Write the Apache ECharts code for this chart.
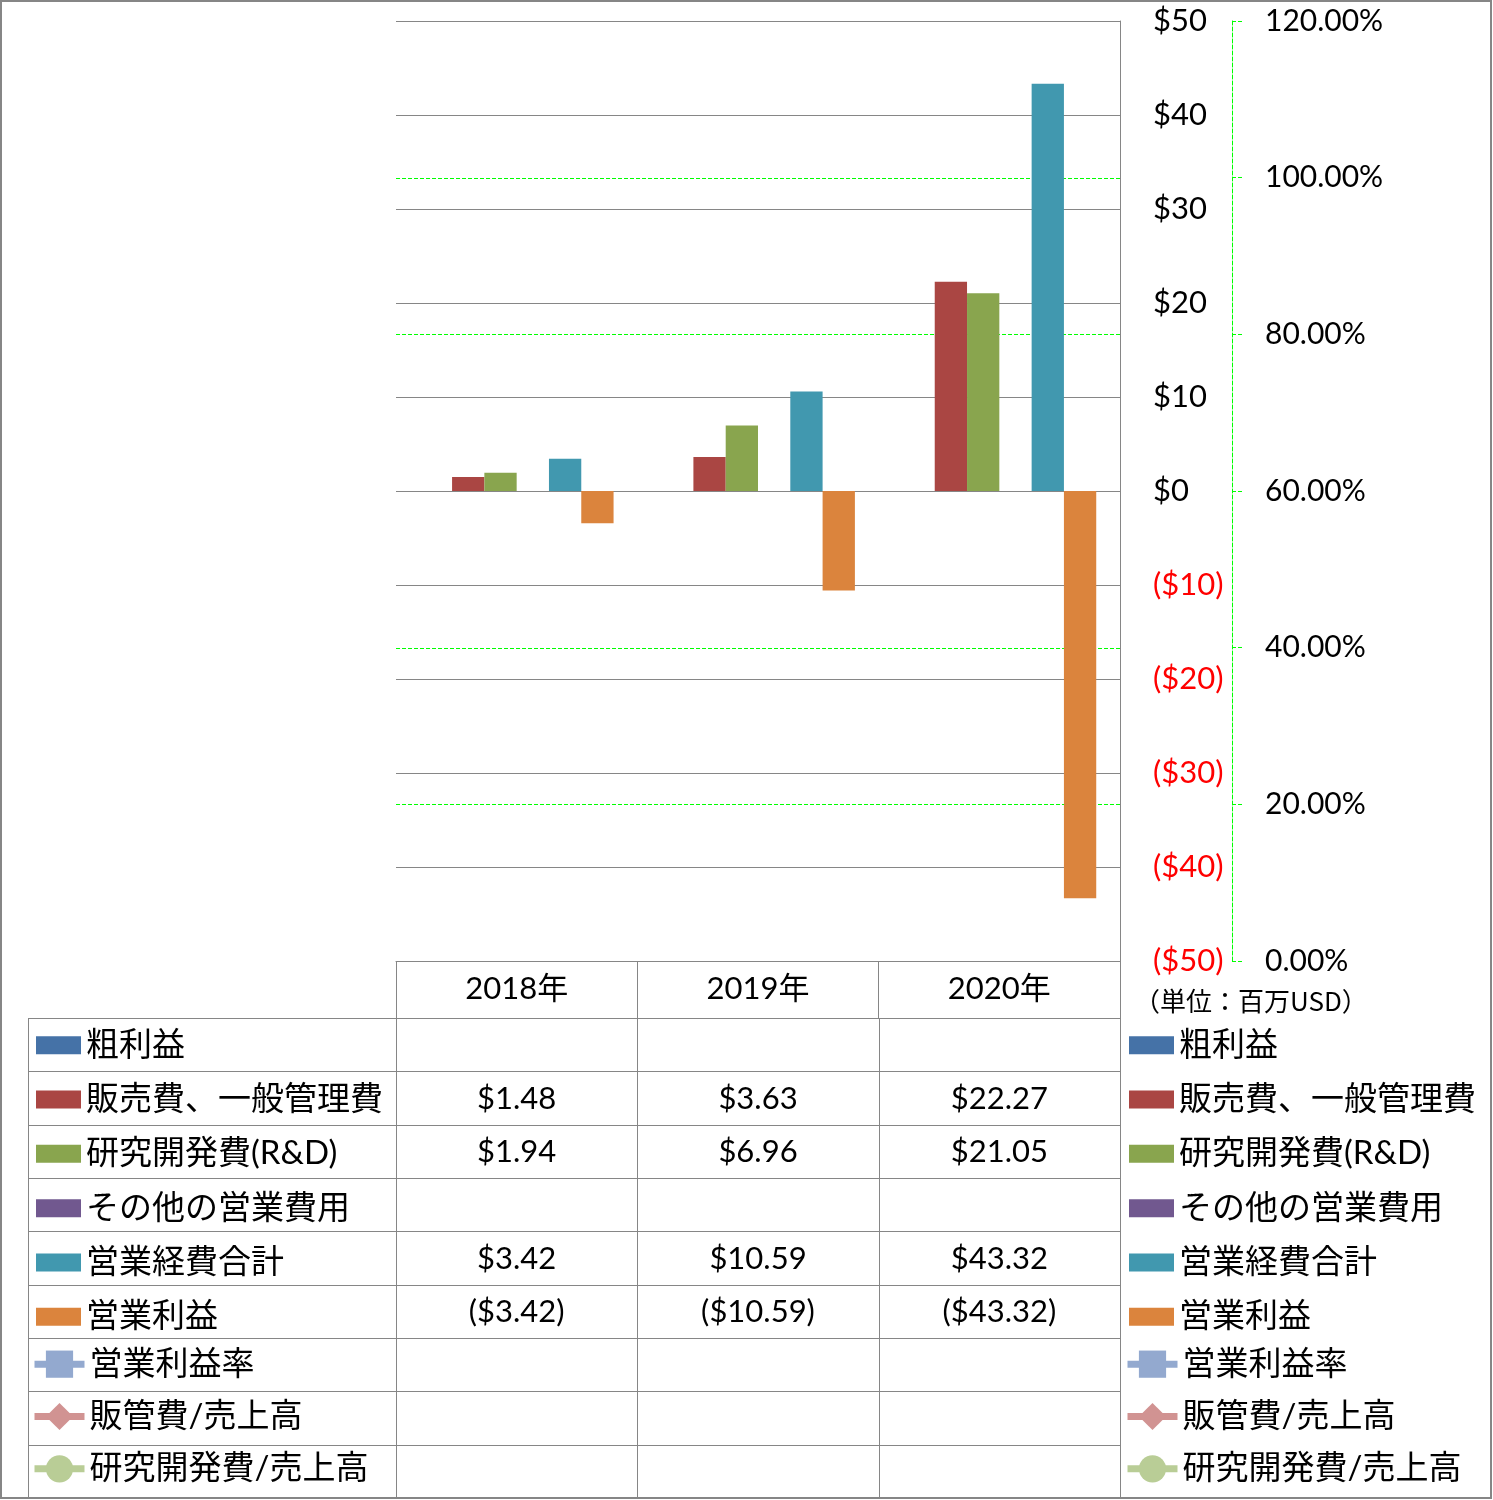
<!DOCTYPE html>
<html>
<head>
<meta charset="utf-8">
<script src="https://cdn.jsdelivr.net/npm/echarts@6/dist/echarts.min.js"></script>
<style>
html,body{margin:0;padding:0;background:#fff;}
#chart{width:1493px;height:1500px;}
</style>
</head>
<body>
<div id="chart"></div>
<script>
// ---- data ----
const categories = ['2018年', '2019年', '2020年'];
const grossProfit = [null, null, null];
const sgaExpense = [1.48, 3.63, 22.27];
const rdExpense = [1.94, 6.96, 21.05];
const otherOpex = [null, null, null];
const totalOpex = [3.42, 10.59, 43.32];
const operatingIncome = [-3.42, -10.59, -43.32];
const opMargin = [null, null, null];
const sgaRatio = [null, null, null];
const rdRatio = [null, null, null];
const seriesNames = ['粗利益', '販売費、一般管理費', '研究開発費(R&D)', 'その他の営業費用', '営業経費合計', '営業利益', '営業利益率', '販管費/売上高', '研究開発費/売上高'];
const leftTicks = {min: -50, max: 50, interval: 10};
const rightTicks = {min: 0, max: 1.2, interval: 0.2};
const unitLabel = '（単位：百万USD）';

// ---- layout ----
const GL = 396, GT = 21, GW = 724, GH = 940;
const colW = GW / categories.length;
const tableLeft = 28, rowTop = 1018, rowBottom = 1498;
const rowH = (rowBottom - rowTop) / seriesNames.length;
const FONT = "Lato, 'Noto Sans CJK JP', sans-serif";
const GRAY = '#868686';
const GREEN = '#00FF00';

const colors = ['#4572A7', '#AA4643', '#89A54E', '#71588F', '#4198AF', '#DB843D', '#93A9CF', '#D19392', '#B9CD96'];
const barData = [grossProfit, sgaExpense, rdExpense, otherOpex, totalOpex, operatingIncome];
const lineData = [opMargin, sgaRatio, rdRatio];
const lineSymbols = ['rect', 'diamond', 'circle'];

function money(v) {
  if (v == null) return '';
  return v < 0 ? '($' + Math.abs(v).toFixed(2) + ')' : '$' + v.toFixed(2);
}

const series = [];
barData.forEach((d, i) => {
  series.push({
    name: seriesNames[i], type: 'bar', data: d, yAxisIndex: 0,
    barWidth: 32.3, barGap: '0%',
    itemStyle: {color: colors[i]}
  });
});
lineData.forEach((d, i) => {
  series.push({
    name: seriesNames[6 + i], type: 'line', data: d, yAxisIndex: 1,
    symbol: lineSymbols[i], symbolSize: 16,
    lineStyle: {color: colors[6 + i], width: 6},
    itemStyle: {color: colors[6 + i]}
  });
});

function barLegend(left) {
  return {
    orient: 'vertical', left: left, top: rowTop + rowH / 2 - 16,
    padding: 0, itemGap: rowH - 32, itemWidth: 45, itemHeight: 18,
    selectedMode: false,
    textStyle: {fontFamily: FONT, fontSize: 33, color: '#000', lineHeight: 32},
    data: seriesNames.slice(0, 6).map(n => ({name: n, icon: 'rect'}))
  };
}
function lineLegend(left) {
  return {
    orient: 'vertical', left: left, top: rowTop + 6 * rowH + rowH / 2 - 17,
    padding: 0, itemGap: rowH - 34, itemWidth: 50, itemHeight: 34,
    selectedMode: false,
    lineStyle: {width: 7},
    textStyle: {fontFamily: FONT, fontSize: 33, color: '#000', lineHeight: 32},
    data: seriesNames.slice(6)
  };
}

// graphics: table lines, values, border, unit label
const graphics = [];
const crisp = v => Math.round(v) + 0.5;
for (let k = 0; k <= seriesNames.length; k++) {
  const y = crisp(rowTop + k * rowH);
  graphics.push({type: 'line', silent: true, shape: {x1: tableLeft, y1: y, x2: GL + GW, y2: y}, style: {stroke: GRAY, lineWidth: 1}});
}
[tableLeft, GL, GL + colW, GL + 2 * colW, GL + GW].forEach(x => {
  graphics.push({type: 'line', silent: true, shape: {x1: crisp(x), y1: rowTop, x2: crisp(x), y2: rowBottom}, style: {stroke: GRAY, lineWidth: 1}});
});
const allData = barData.concat(lineData);
allData.forEach((d, r) => {
  d.forEach((v, c) => {
    if (v == null) return;
    graphics.push({
      type: 'text', silent: true,
      x: GL + (c + 0.5) * colW, y: rowTop + (r + 0.5) * rowH + 1,
      style: {text: money(v), fill: '#000', font: '31px ' + FONT, align: 'center', verticalAlign: 'middle'}
    });
  });
});
graphics.push({type: 'text', silent: true, x: 1134, y: 1001,
  style: {text: unitLabel, fill: '#000', font: "26px 'Noto Sans CJK JP', sans-serif", verticalAlign: 'middle'}});
graphics.push({type: 'rect', silent: true, shape: {x: 1, y: 1, width: 1490, height: 1497},
  style: {fill: 'none', stroke: GRAY, lineWidth: 2}});

const chart = echarts.init(document.getElementById('chart'));
const baseOption = {
  animation: false,
  backgroundColor: '#fff',
  grid: {left: GL, top: GT, width: GW, height: GH, containLabel: false},
  legend: [barLegend(36), barLegend(1129), lineLegend(31), lineLegend(1124)],
  xAxis: {
    type: 'category', data: categories, position: 'bottom',
    axisLine: {onZero: false, lineStyle: {color: GRAY, width: 1}},
    axisTick: {show: true, length: 57, interval: 0, lineStyle: {color: GRAY}},
    axisLabel: {margin: 13, fontFamily: FONT, fontSize: 31, color: '#000', lineHeight: 30},
    splitLine: {show: false}
  },
  yAxis: [
    {
      type: 'value', position: 'right', min: leftTicks.min, max: leftTicks.max, interval: leftTicks.interval, z: 1,
      axisLine: {show: true, lineStyle: {color: GRAY}},
      axisTick: {show: false},
      splitLine: {show: true, lineStyle: {color: GRAY, width: 1}},
      axisLabel: {
        margin: 33, fontFamily: FONT, fontSize: 31, align: 'left',
        formatter: v => v < 0 ? '{neg|($' + Math.abs(v) + ')}' : '{pos|$' + v + '}',
        rich: {neg: {color: '#FF0000', fontFamily: FONT, fontSize: 31}, pos: {color: '#000', fontFamily: FONT, fontSize: 31}}
      }
    },
    {
      type: 'value', position: 'right', offset: 112, min: rightTicks.min, max: rightTicks.max, interval: rightTicks.interval, z: 0,
      axisLine: {show: true, lineStyle: {color: GREEN, type: [4, 2], width: 1}},
      axisTick: {show: true, length: 11, lineStyle: {color: GREEN, type: [4, 2], width: 1}},
      splitLine: {show: false},
      axisLabel: {
        margin: 33, fontFamily: FONT, fontSize: 30, color: '#000', align: 'left',
        formatter: v => (v * 100).toFixed(2) + '%'
      }
    }
  ],
  series: series,
  graphic: graphics
};
chart.setOption(baseOption);

// crisp green dashed gridlines for the secondary axis, positioned by its scale
const greenLines = [];
for (let v = rightTicks.min + rightTicks.interval; v < rightTicks.max - 1e-9; v += rightTicks.interval) {
  const y = Math.round(chart.convertToPixel({yAxisIndex: 1}, v)) + 0.5;
  if (Math.abs(y - chart.convertToPixel({yAxisIndex: 0}, 0)) < 2) continue;
  greenLines.push({type: 'line', silent: true, z: 1,
    shape: {x1: GL, y1: y, x2: GL + GW, y2: y},
    style: {stroke: GREEN, lineWidth: 1, lineDash: [4, 2]}});
}
chart.setOption({graphic: graphics.concat(greenLines)});
</script>
</body>
</html>
